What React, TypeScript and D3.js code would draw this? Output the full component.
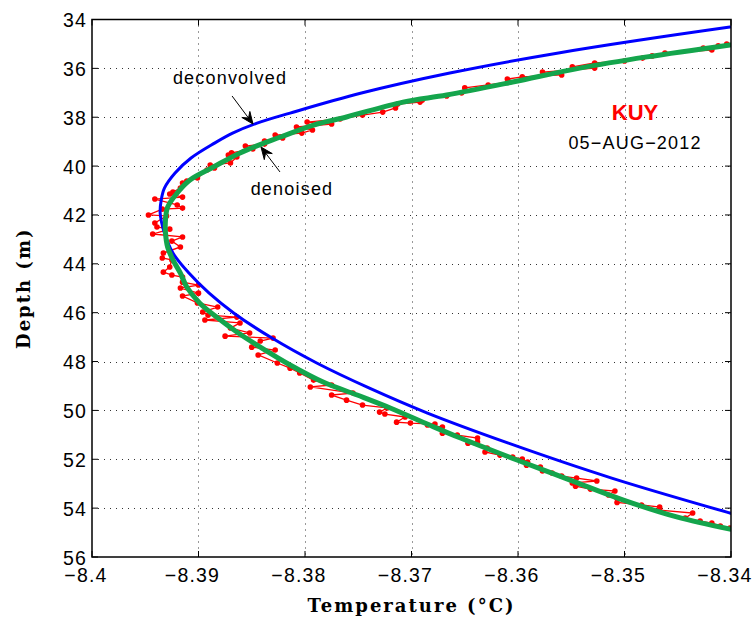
import React from "react";
import * as d3 from "d3";

// ---- data ----
const redDepth = [35.00,35.08,35.17,35.25,35.37,35.49,35.58,35.70,35.78,35.94,35.99,36.15,36.27,36.35,36.44,36.56,36.68,36.80,37.01,37.13,37.30,37.38,37.46,37.62,37.79,37.91,38.07,38.20,38.28,38.40,38.52,38.65,38.73,38.85,38.97,39.10,39.18,39.30,39.46,39.55,39.63,39.87,39.96,40.08,40.16,40.49,40.61,40.69,40.90,41.06,41.14,41.27,41.35,41.59,41.72,41.76,42.00,42.04,42.33,42.49,42.58,42.78,42.90,43.07,43.31,43.56,43.76,43.84,44.13,44.34,44.46,44.54,44.75,44.87,44.99,45.20,45.32,45.60,45.77,45.97,46.10,46.18,46.30,46.42,46.63,46.83,46.96,47.04,47.16,47.41,47.53,47.73,48.06,48.27,48.47,48.76,48.96,49.04,49.29,49.37,49.58,49.78,49.90,50.07,50.15,50.27,50.48,50.52,50.56,50.60,50.68,50.93,51.01,51.13,51.29,51.34,51.54,51.70,51.83,51.91,51.99,52.11,52.24,52.32,52.48,52.56,52.69,52.77,52.89,52.97,53.10,53.22,53.30,53.46,53.61,53.77,53.87,53.96,54.08,54.20,54.41,54.53,54.61,54.73,54.82];
const redTemp = [-8.3404,-8.3412,-8.3426,-8.3418,-8.3462,-8.3474,-8.3483,-8.3500,-8.3528,-8.3549,-8.3528,-8.3577,-8.3559,-8.3596,-8.3610,-8.3608,-8.3628,-8.3650,-8.3653,-8.3667,-8.3690,-8.3692,-8.3713,-8.3715,-8.3727,-8.3746,-8.3767,-8.3798,-8.3775,-8.3808,-8.3793,-8.3803,-8.3828,-8.3821,-8.3838,-8.3838,-8.3856,-8.3849,-8.3869,-8.3872,-8.3864,-8.3870,-8.3889,-8.3885,-8.3892,-8.3901,-8.3911,-8.3915,-8.3917,-8.3924,-8.3927,-8.3915,-8.3941,-8.3920,-8.3915,-8.3934,-8.3947,-8.3930,-8.3941,-8.3939,-8.3927,-8.3943,-8.3915,-8.3925,-8.3917,-8.3933,-8.3934,-8.3925,-8.3927,-8.3933,-8.3925,-8.3915,-8.3915,-8.3900,-8.3917,-8.3900,-8.3915,-8.3901,-8.3882,-8.3896,-8.3891,-8.3864,-8.3894,-8.3861,-8.3870,-8.3852,-8.3875,-8.3830,-8.3842,-8.3850,-8.3828,-8.3844,-8.3826,-8.3814,-8.3805,-8.3792,-8.3775,-8.3795,-8.3755,-8.3775,-8.3761,-8.3746,-8.3723,-8.3730,-8.3725,-8.3706,-8.3714,-8.3701,-8.3678,-8.3685,-8.3671,-8.3671,-8.3657,-8.3638,-8.3638,-8.3647,-8.3629,-8.3631,-8.3617,-8.3605,-8.3596,-8.3591,-8.3592,-8.3579,-8.3577,-8.3568,-8.3559,-8.3545,-8.3526,-8.3549,-8.3546,-8.3532,-8.3509,-8.3515,-8.3507,-8.3507,-8.3484,-8.3467,-8.3467,-8.3436,-8.3443,-8.3429,-8.3418,-8.3410,-8.3401];

const denoisedDepth = [35.04,35.53,35.99,36.56,37.09,37.38,37.99,38.32,38.81,39.46,40.04,40.57,41.10,41.68,42.21,42.74,43.31,43.84,44.38,44.95,45.60,46.18,46.79,47.41,48.14,48.84,49.37,49.90,50.60,51.13,52.03,52.85,53.67,54.36,54.86];
const denoisedTemp = [-8.3401,-8.3479,-8.3542,-8.3605,-8.3667,-8.3708,-8.3761,-8.3792,-8.3823,-8.3861,-8.3886,-8.3908,-8.3920,-8.3929,-8.3931,-8.3931,-8.3929,-8.3924,-8.3917,-8.3911,-8.3899,-8.3883,-8.3864,-8.3842,-8.3814,-8.3783,-8.3751,-8.3720,-8.3683,-8.3654,-8.3601,-8.3551,-8.3501,-8.3451,-8.3401];

const deconvDepth = [33.94,34.31,35.37,36.19,37.01,37.83,38.24,38.65,39.06,39.67,40.28,40.90,41.39,41.92,42.74,43.56,44.38,45.20,46.01,47.04,48.06,49.08,50.11,51.34,52.77,54.20,54.61];
const deconvTemp = [-8.3336,-8.3401,-8.3562,-8.3664,-8.3747,-8.3814,-8.3845,-8.3868,-8.3885,-8.3907,-8.3922,-8.3932,-8.3935,-8.3936,-8.3932,-8.3924,-8.3909,-8.3890,-8.3867,-8.3831,-8.3789,-8.3740,-8.3685,-8.3609,-8.3512,-8.3401,-8.3367];

const xTicks = [-8.4, -8.39, -8.38, -8.37, -8.36, -8.35, -8.34];
const yTicks = [34, 36, 38, 40, 42, 44, 46, 48, 50, 52, 54, 56];

const labelDeconv = { text: "deconvolved", t: -8.38704, d: 36.62 };
const labelDenoised = { text: "denoised", t: -8.38122, d: 41.20 };
const arrowDeconv = { t0: -8.38685, d0: 37.13, t1: -8.38488, d1: 38.28 };
const arrowDenoised = { t0: -8.38235, d0: 40.24, t1: -8.38413, d1: 39.22 };
const station = { text: "KUY", t: -8.34901, d: 38.11 };
const dateLabel = { text: "05\u2212AUG\u22122012", t: -8.34901, d: 39.30 };

const W = 755, H = 619;
const L = 92, R = 731, T = 19.5, B = 557;

const fmt = (v: number) => String(v).replace("-", "\u2212");

function arrowPath(x0: number, y0: number, x1: number, y1: number) {
  const dx = x1 - x0, dy = y1 - y0;
  const len = Math.hypot(dx, dy);
  const ux = dx / len, uy = dy / len;
  const hl = 12, hw = 5, back = 7.5;
  const bx = x1 - ux * hl, by = y1 - uy * hl;
  const nx = -uy, ny = ux;
  const mx = x1 - ux * back, my = y1 - uy * back;
  return {
    line: `M${x0},${y0}L${mx},${my}`,
    head: `M${x1},${y1}L${bx + nx * hw},${by + ny * hw}L${mx},${my}L${bx - nx * hw},${by - ny * hw}Z`,
  };
}

export default function App() {
  const x = d3.scaleLinear().domain([-8.4, -8.34]).range([L, R]);
  const y = d3.scaleLinear().domain([34, 56]).range([T, B]);

  const line = d3
    .line<[number, number]>()
    .x((p) => x(p[0]))
    .y((p) => y(p[1]))
    .curve(d3.curveCatmullRom.alpha(0.5));
  const straight = d3
    .line<[number, number]>()
    .x((p) => x(p[0]))
    .y((p) => y(p[1]));

  const red: [number, number][] = redDepth.map((d, i) => [redTemp[i], d]);
  const green: [number, number][] = denoisedDepth.map((d, i) => [denoisedTemp[i], d]);
  const blue: [number, number][] = deconvDepth.map((d, i) => [deconvTemp[i], d]);

  const a1 = arrowPath(x(arrowDeconv.t0), y(arrowDeconv.d0), x(arrowDeconv.t1), y(arrowDeconv.d1));
  const a2 = arrowPath(x(arrowDenoised.t0), y(arrowDenoised.d0), x(arrowDenoised.t1), y(arrowDenoised.d1));

  const tickFont = "'Liberation Sans', Arial, Helvetica, sans-serif";
  const labelFont = "'DejaVu Serif', 'Liberation Serif', serif";

  return (
    <svg width={W} height={H} style={{ position: "absolute", left: 0, top: 0, background: "#fff" }}>
      <defs>
        <clipPath id="plot">
          <rect x={L} y={T} width={R - L} height={B - T} />
        </clipPath>
      </defs>
      <rect x={0} y={0} width={W} height={H} fill="#fff" />
      {/* grid */}
      <g stroke="#333" strokeWidth={1} strokeDasharray="1,5">
        {xTicks.slice(1, -1).map((t) => (
          <line key={"gx" + t} x1={Math.round(x(t)) + 0.5} x2={Math.round(x(t)) + 0.5} y1={T} y2={B} />
        ))}
        {yTicks.slice(1, -1).map((t) => (
          <line key={"gy" + t} x1={L} x2={R} y1={Math.round(y(t)) + 0.5} y2={Math.round(y(t)) + 0.5} />
        ))}
      </g>
      {/* data */}
      <g clipPath="url(#plot)">
        <path d={straight(red) || ""} fill="none" stroke="#ff0000" strokeWidth={1.3} />
        {red.map((p, i) => (
          <circle key={i} cx={x(p[0])} cy={y(p[1])} r={2.8} fill="#ff0000" />
        ))}
        <path d={line(blue) || ""} fill="none" stroke="#0000ff" strokeWidth={3} />
        <path d={line(green) || ""} fill="none" stroke="#14a54c" strokeWidth={5} strokeLinecap="round" />
      </g>
      {/* ticks */}
      <g stroke="#000" strokeWidth={1}>
        {xTicks.map((t) => (
          <g key={"tx" + t}>
            <line x1={x(t)} x2={x(t)} y1={B} y2={B - 6} />
            <line x1={x(t)} x2={x(t)} y1={T} y2={T + 6} />
          </g>
        ))}
        {yTicks.map((t) => (
          <g key={"ty" + t}>
            <line x1={L} x2={L + 6} y1={y(t)} y2={y(t)} />
            <line x1={R} x2={R - 6} y1={y(t)} y2={y(t)} />
          </g>
        ))}
      </g>
      <rect x={L} y={T} width={R - L} height={B - T} fill="none" stroke="#000" strokeWidth={1.5} />
      {/* tick labels */}
      <g fontFamily={tickFont} fontSize={19.5} fill="#000" letterSpacing={1.2}>
        {xTicks.map((t) => (
          <text key={"lx" + t} x={x(t) - 6} y={B + 25} textAnchor="middle">
            {fmt(t)}
          </text>
        ))}
        {yTicks.map((t) => (
          <text key={"ly" + t} x={L - 5} y={y(t) + 7.5} textAnchor="end">
            {fmt(t)}
          </text>
        ))}
      </g>
      {/* axis titles */}
      <text x={(L + R) / 2} y={612} textAnchor="middle" fontFamily={labelFont} fontWeight="bold" fontSize={18} letterSpacing={2}>
        Temperature (°C)
      </text>
      <text
        transform={`translate(30,${(T + B) / 2}) rotate(-90)`}
        textAnchor="middle"
        fontFamily={labelFont}
        fontWeight="bold"
        fontSize={18}
        letterSpacing={2}
      >
        Depth (m)
      </text>
      {/* annotations */}
      <g fontFamily={tickFont} fontSize={18} fill="#000" letterSpacing={1.2}>
        <text x={x(labelDeconv.t)} y={y(labelDeconv.d)} textAnchor="middle">{labelDeconv.text}</text>
        <text x={x(labelDenoised.t)} y={y(labelDenoised.d)} textAnchor="middle">{labelDenoised.text}</text>
      </g>
      <g stroke="#000" strokeWidth={1} fill="#000">
        <path d={a1.line} />
        <path d={a1.head} />
        <path d={a2.line} />
        <path d={a2.head} />
      </g>
      <text x={x(station.t)} y={y(station.d)} textAnchor="middle" fontFamily={tickFont} fontWeight="bold" fontSize={22} fill="#ff0000">
        {station.text}
      </text>
      <text x={x(dateLabel.t)} y={y(dateLabel.d)} textAnchor="middle" fontFamily={tickFont} fontSize={18} letterSpacing={1.2} fill="#000">
        {dateLabel.text}
      </text>
    </svg>
  );
}
